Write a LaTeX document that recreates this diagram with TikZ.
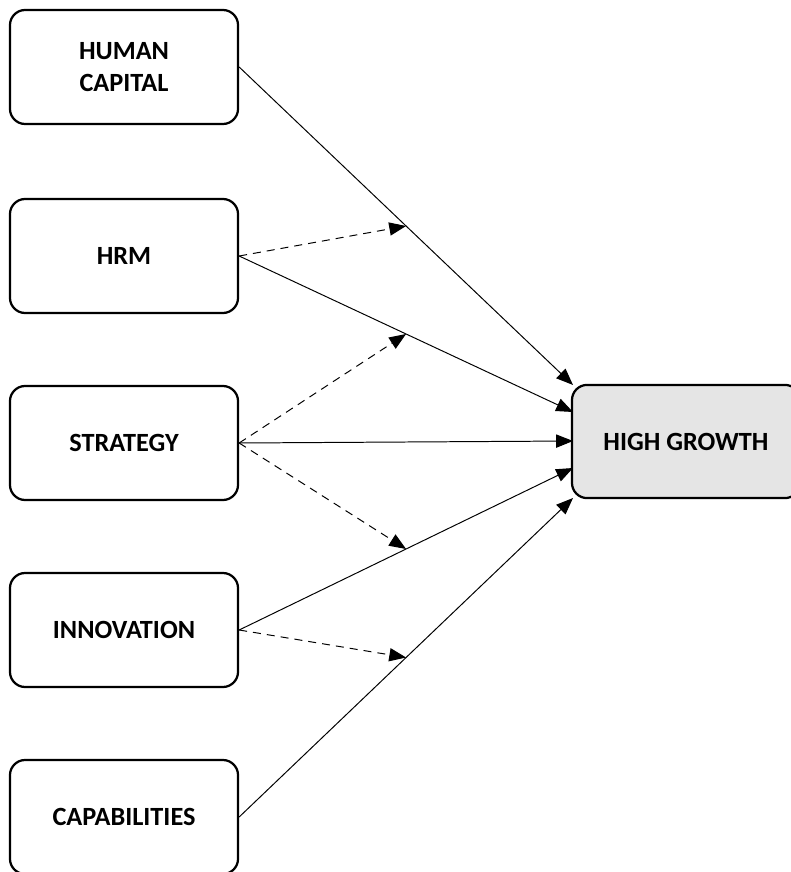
\documentclass[tikz,border=0pt]{standalone}
\usepackage{fontspec}
\setmainfont{Carlito}
\usetikzlibrary{arrows.meta}

\definecolor{outcomegray}{gray}{0.9}

\tikzset{
    factor/.style={draw, line width=1.6pt, rounded corners=0.38cm,
        minimum width=5.7cm, minimum height=2.85cm, align=center,
        font=\fontsize{18.7}{23}\selectfont\bfseries},
    effect/.style={-{Triangle[length=0.42cm,width=0.33cm]}, line width=0.7pt},
    moderate/.style={effect, dashed, dash pattern=on 0.2cm off 0.15cm}
}

\begin{document}
\begin{tikzpicture}[x=0.025cm,y=-0.025cm]
    \useasboundingbox (0,0) rectangle (790,872);

    % Factors
    \node[factor] (hcap)  at (124,67)  {HUMAN\\CAPITAL};
    \node[factor] (hrm)   at (124,256) {HRM};
    \node[factor] (strat) at (124,443) {STRATEGY};
    \node[factor] (innov) at (124,630) {INNOVATION};
    \node[factor] (capab) at (124,817) {CAPABILITIES};

    % Outcome
    \node[factor, fill=outcomegray, minimum height=2.83cm] (growth) at (686,441.5) {HIGH GROWTH};

    % Arrow ends on the outcome
    \coordinate (t1) at (573,385);
    \coordinate (t2) at (573,412);
    \coordinate (t3) at (573,441);
    \coordinate (t4) at (573,468);
    \coordinate (t5) at (573,498);

    % Direct effects
    \draw[effect] (hcap.east)  -- coordinate[pos=0.5] (m1) (t1);
    \draw[effect] (hrm.east)   -- coordinate[pos=0.5] (m2) (t2);
    \draw[effect] (strat.east) -- (t3);
    \draw[effect] (innov.east) -- coordinate[pos=0.5] (m4) (t4);
    \draw[effect] (capab.east) -- coordinate[pos=0.5] (m5) (t5);

    % Moderating effects
    \draw[moderate] (hrm.east)   -- (m1);
    \draw[moderate] (strat.east) -- (m2);
    \draw[moderate] (strat.east) -- (m4);
    \draw[moderate] (innov.east) -- (m5);
\end{tikzpicture}
\end{document}
